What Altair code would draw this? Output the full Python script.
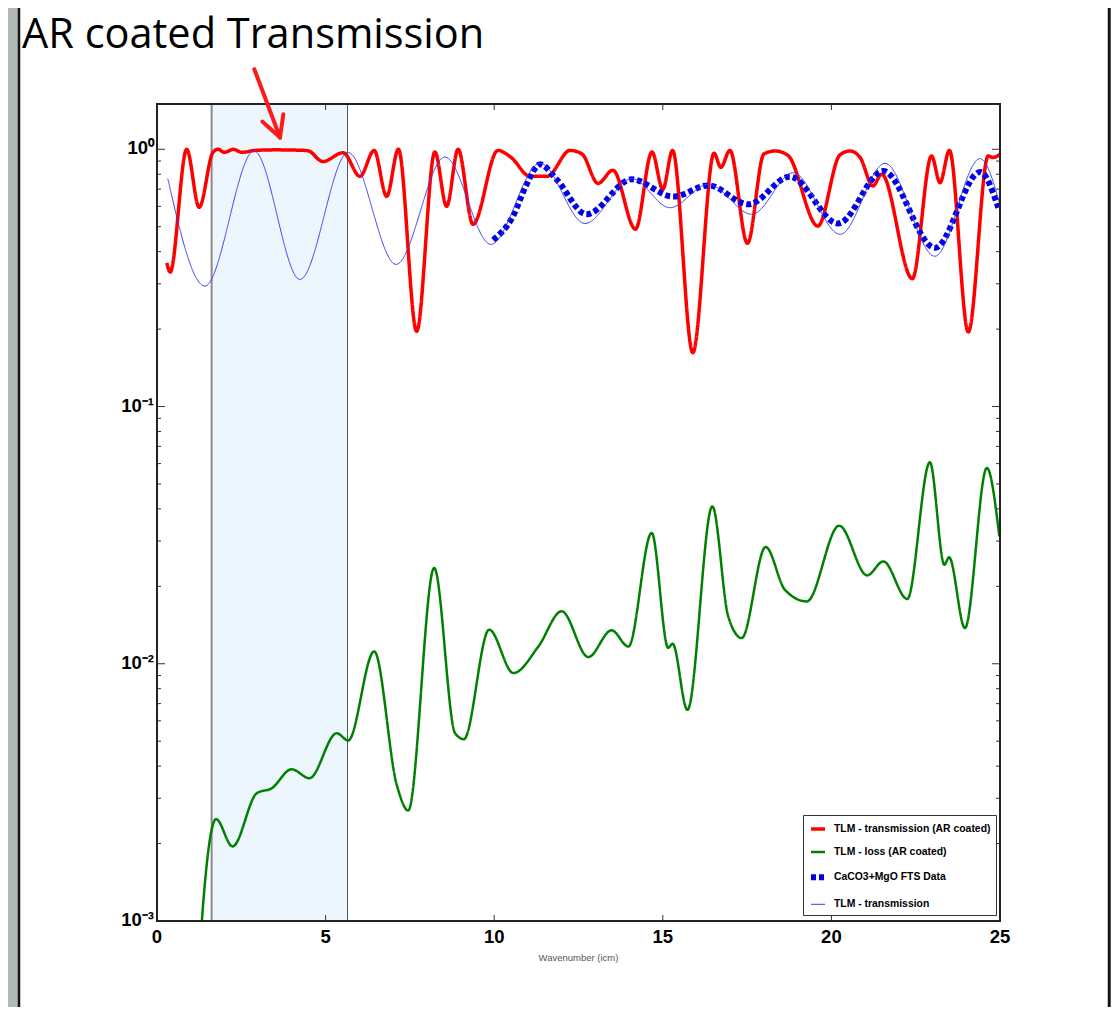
import altair as alt
import pandas as pd

# ---------------- data ----------------
red_x = [0.29, 0.39, 0.88, 1.25, 1.66, 1.81, 2.0, 2.26, 2.52, 2.9,
         3.5, 4.4, 4.5, 4.92, 5.52, 6.02, 6.44, 6.81, 7.16, 7.70,
         8.24, 8.59, 8.93, 9.37, 10.11, 10.5, 11.06, 11.57, 12.25, 12.6,
         13.08, 13.52, 14.19, 14.68, 15.0, 15.29, 15.89, 16.52, 16.72, 16.99,
         17.51, 18.0, 18.33, 18.7, 19.6, 20.25, 20.55, 20.85, 21.23, 21.49,
         22.4, 22.97, 23.22, 23.5, 24.06, 24.65, 24.79, 25.0]
red_y = [0.362, 0.333, 1.0, 0.595, 0.973, 1.0, 0.973, 1.0, 0.973, 0.99,
         0.995, 0.99, 0.985, 0.896, 0.97, 0.785, 0.99, 0.656, 1.0, 0.196,
         0.976, 0.600, 1.0, 0.511, 0.99, 0.93, 0.785, 0.785, 0.99, 0.96,
         0.737, 0.829, 0.489, 0.976, 0.699, 0.99, 0.162, 0.965, 0.851, 0.99,
         0.431, 0.96, 0.985, 0.95, 0.503, 0.95, 0.985, 0.93, 0.72, 0.80,
         0.314, 0.942, 0.742, 0.99, 0.195, 0.942, 0.93, 0.956]

green_x = [1.25, 1.33, 1.62, 1.75, 2.24, 2.96, 3.40, 3.99, 4.52, 5.33, 5.67,
           6.44, 7.11, 7.45, 8.22, 8.84, 9.10, 9.85, 10.57, 11.31, 12.0,
           12.79, 13.48, 13.98, 14.67, 15.16, 15.29, 15.73, 16.47, 16.94, 17.34,
           18.05, 18.62, 19.27, 20.23, 21.06, 21.54, 22.25, 22.92, 23.35, 23.49,
           23.96, 24.61, 24.98]
green_y = [0.0007, 0.001, 0.00226, 0.00249, 0.00195, 0.00314, 0.00328, 0.00389, 0.00359, 0.00537, 0.00503,
           0.01117, 0.00338, 0.00269, 0.02357, 0.00537, 0.00509, 0.01356, 0.0092, 0.01167, 0.016,
           0.01062, 0.01349, 0.01167, 0.03225, 0.01154, 0.01197, 0.00662, 0.0409, 0.01528, 0.01259,
           0.02845, 0.0194, 0.01747, 0.03443, 0.02206, 0.025, 0.01786, 0.0607, 0.02427, 0.02594,
           0.01377, 0.0577, 0.0313]

fts_x = [9.97, 10.56, 10.96, 11.36, 11.85, 12.74, 14.08, 15.31, 16.35, 17.54,
         18.77, 20.2, 21.54, 23.07, 24.41, 24.95]
fts_y = [0.444, 0.550, 0.731, 0.874, 0.764, 0.559, 0.764, 0.655, 0.724, 0.611,
         0.783, 0.515, 0.823, 0.414, 0.816, 0.593]

blue_x = [0.32, 1.42, 2.88, 4.24, 5.67, 7.09, 8.54, 9.9, 11.36, 12.69,
          14.08, 15.21, 16.35, 17.64, 18.87, 20.26, 21.59, 23.07, 24.41, 25.0]
blue_y = [0.769, 0.294, 0.985, 0.312, 0.971, 0.357, 0.933, 0.427, 0.882, 0.515,
          0.769, 0.593, 0.731, 0.559, 0.811, 0.467, 0.882, 0.384, 0.92, 0.61]

series_names = ["TLM - transmission (AR coated)", "TLM - loss (AR coated)",
                "CaCO3+MgO FTS Data", "TLM - transmission"]

band_start = [1.62]
band_end = [5.65]

x_tick_values = [0, 5, 10, 15, 20, 25]
x_tick_labels = ["0", "5", "10", "15", "20", "25"]
x_inner_ticks = [5, 10, 15, 20]
y_major = [0.001, 0.01, 0.1, 1]
y_tick_labels = ["10\u207b\u00b3", "10\u207b\u00b2", "10\u207b\u00b9", "10\u2070"]
y_minor = [m * d for d in (0.001, 0.01, 0.1) for m in range(2, 10)]

x_title = "Wavenumber (icm)"
slide_title = "AR coated Transmission"

# annotation arrow (data coordinates)
arrow_x0 = [2.886, 3.123, 3.746]
arrow_y0 = [2.048, 1.282, 1.368]
arrow_x1 = [3.648, 3.648, 3.648]
arrow_y1 = [1.111, 1.111, 1.111]

# ---------------- styles ----------------
series_colors = ["#ff0000", "#008000", "#0000e6", "#3b3bf5"]
series_widths = [3.5, 2.5, 6.0, 1.0]
series_dash = [[1, 0], [1, 0], [5, 3], [1, 0]]
FONT = "Liberation Sans"

W, H = 843, 817
PAD = {"left": 149, "top": 96, "right": 111, "bottom": 86}

rows = []
for name, xs, ys in zip(series_names, [red_x, green_x, fts_x, blue_x],
                        [red_y, green_y, fts_y, blue_y]):
    for xv, yv in zip(xs, ys):
        rows.append({"wn": xv, "val": yv, "series": name})
df = pd.DataFrame(rows)

xscale = alt.Scale(domain=[0, 25], nice=False, zero=False)
yscale = alt.Scale(type="log", domain=[0.001, 1.5], nice=False)

one = pd.DataFrame({"a": [0]})

slide_bg = alt.Chart(one).mark_rect(
    fill=alt.Gradient(gradient="linear", x1=0, x2=1, y1=0, y2=0,
                      stops=[alt.GradientStop(color="#b3b8b8", offset=0),
                             alt.GradientStop(color="#8f9a9c", offset=0.5),
                             alt.GradientStop(color="#607176", offset=1)])
).encode(x=alt.value(-PAD["left"]), x2=alt.value(W + PAD["right"]),
         y=alt.value(-PAD["top"]), y2=alt.value(H + PAD["bottom"]))

panel = alt.Chart(one).mark_rect(fill="white", stroke="#151515", strokeWidth=2.5).encode(
    x=alt.value(-138), x2=alt.value(952), y=alt.value(-101), y2=alt.value(960))

title = alt.Chart(one).mark_text(text=slide_title, font="Open Sans",
                                 fontSize=41.5, align="left", baseline="alphabetic",
                                 color="black").encode(x=alt.value(-135), y=alt.value(-56))

band_df = pd.DataFrame({"b0": band_start, "b1": band_end})
band = alt.Chart(band_df).mark_rect(color="#edf5fd").encode(
    x=alt.X("b0:Q", scale=xscale, axis=None), x2="b1:Q",
    y=alt.value(0), y2=alt.value(H))
band_left = alt.Chart(band_df).mark_rule(color="#8a8a8a", strokeWidth=2).encode(
    x=alt.X("b0:Q", scale=xscale, axis=None), y=alt.value(0), y2=alt.value(H))
band_right = alt.Chart(band_df).mark_rule(color="#555555", strokeWidth=1).encode(
    x=alt.X("b1:Q", scale=xscale, axis=None), y=alt.value(0), y2=alt.value(H))

lines = alt.Chart(df).mark_line(interpolate="monotone", clip=True, strokeCap="butt").encode(
    x=alt.X("wn:Q", scale=xscale, axis=None),
    y=alt.Y("val:Q", scale=yscale, axis=None),
    color=alt.Color("series:N", scale=alt.Scale(domain=series_names, range=series_colors),
                    legend=alt.Legend(title=None, orient="none", legendX=646, legendY=711,
                                      symbolType="stroke", symbolSize=196,
                                      labelFont=FONT, labelFontSize=10.4,
                                      labelFontWeight="bold", labelColor="black",
                                      strokeColor="#333333", fillColor="white",
                                      padding=5, rowPadding=7.6, labelOffset=6,
                                      labelLimit=400, zindex=3)),
    strokeWidth=alt.StrokeWidth("series:N",
                                scale=alt.Scale(type="ordinal", domain=series_names,
                                                range=series_widths),
                                legend=alt.Legend(title=None)),
    strokeDash=alt.StrokeDash("series:N",
                              scale=alt.Scale(domain=series_names, range=series_dash),
                              legend=alt.Legend(title=None)),
    order=alt.Order("wn:Q"),
)

xt = pd.DataFrame({"t": x_inner_ticks})
ymaj = pd.DataFrame({"t": y_major})
ymin = pd.DataFrame({"t": y_minor})

def xtick(y0, y1):
    return alt.Chart(xt).mark_rule(color="#333333", strokeWidth=1).encode(
        x=alt.X("t:Q", scale=xscale, axis=None), y=alt.value(y0), y2=alt.value(y1))

def ytick(data, x0, x1):
    return alt.Chart(data).mark_rule(color="#333333", strokeWidth=1).encode(
        y=alt.Y("t:Q", scale=yscale, axis=None), x=alt.value(x0), x2=alt.value(x1))

ticks = [xtick(0, 6), xtick(H - 6, H),
         ytick(ymaj, 0, 8), ytick(ymaj, W - 8, W),
         ytick(ymin, 0, 4), ytick(ymin, W - 4, W)]

frame = alt.Chart(one).mark_rect(fillOpacity=0, stroke="#222222", strokeWidth=2).encode(
    x=alt.value(0), x2=alt.value(W), y=alt.value(0), y2=alt.value(H))

xlab = alt.Chart(pd.DataFrame({"v": x_tick_values, "s": x_tick_labels})).mark_text(
    font=FONT, fontSize=18.5, fontWeight="bold", color="black", baseline="top",
    align="center").encode(x=alt.X("v:Q", scale=xscale, axis=None), y=alt.value(H + 7),
                            text="s:N")
ylab = alt.Chart(pd.DataFrame({"v": y_major, "s": y_tick_labels})).mark_text(
    font=FONT, fontSize=18.5, fontWeight="bold", color="black", baseline="middle",
    align="right", dy=-1).encode(y=alt.Y("v:Q", scale=yscale, axis=None), x=alt.value(-3),
                                 text="s:N")
xtitle = alt.Chart(one).mark_text(text=x_title, font=FONT, fontSize=9.5, color="#555555",
                                  baseline="middle", align="center").encode(
    x=alt.value(W / 2), y=alt.value(H + 37))

arrow_df = pd.DataFrame({"x0": arrow_x0, "y0": arrow_y0, "x1": arrow_x1, "y1": arrow_y1})
arrow = alt.Chart(arrow_df).mark_rule(color="#ff1a1a", strokeWidth=4, strokeCap="round").encode(
    x=alt.X("x0:Q", scale=xscale, axis=None), y=alt.Y("y0:Q", scale=yscale, axis=None),
    x2="x1:Q", y2="y1:Q")

chart = alt.layer(slide_bg, panel, title, band, band_left, band_right, *ticks, lines, frame,
                  xlab, ylab, xtitle, arrow).properties(
    width=W, height=H,
    padding=PAD,
    autosize=alt.AutoSizeParams(type="none"),
    background="#9aa2a4",
).configure_view(strokeWidth=0, fill="white")

chart.save("out.html", embed_options={"renderer": "svg", "actions": False})
